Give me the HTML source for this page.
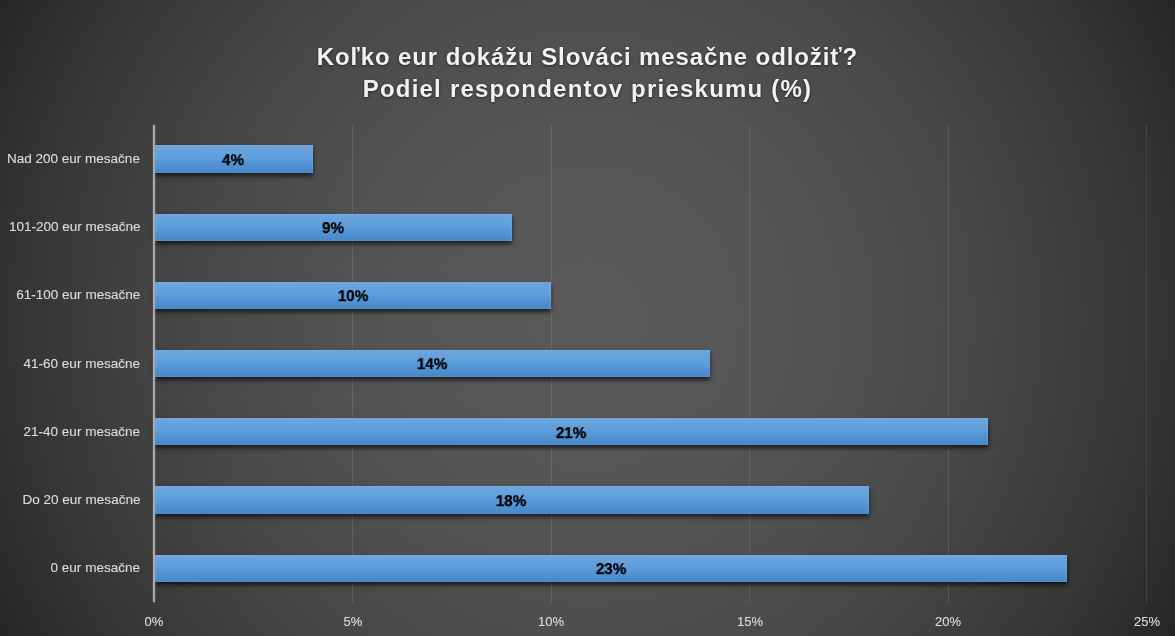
<!DOCTYPE html>
<html><head><meta charset="utf-8"><title>Chart</title>
<style>
html,body{margin:0;padding:0;}
html{background:#262626;}
body{width:1175px;height:636px;overflow:hidden;position:relative;background:#3f3f3f;font-family:"Liberation Sans",sans-serif;}
#c{position:absolute;left:0;top:0;width:1175px;height:636px;background:radial-gradient(circle 668.0px at 587.5px 318px, rgb(89,89,89) 0.00%, rgb(89,89,89) 4.17%, rgb(89,89,89) 8.33%, rgb(88,88,88) 12.50%, rgb(88,88,88) 16.67%, rgb(87,87,87) 20.83%, rgb(86,86,86) 25.00%, rgb(85,85,85) 29.17%, rgb(83,83,83) 33.33%, rgb(82,82,82) 37.50%, rgb(80,80,80) 41.67%, rgb(78,78,78) 45.83%, rgb(76,76,76) 50.00%, rgb(74,74,74) 54.17%, rgb(72,72,72) 58.33%, rgb(69,69,69) 62.50%, rgb(66,66,66) 66.67%, rgb(63,63,63) 70.83%, rgb(60,60,60) 75.00%, rgb(57,57,57) 79.17%, rgb(54,54,54) 83.33%, rgb(50,50,50) 87.50%, rgb(46,46,46) 91.67%, rgb(42,42,42) 95.83%, rgb(38,38,38) 100.00%);overflow:hidden;}
.g{position:absolute;top:124.5px;height:478px;width:1px;background:rgba(255,255,255,0.10);}
.ax{position:absolute;left:153px;top:125px;width:2px;height:477px;background:#a8a8a8;box-shadow:0 0 0 0.5px rgba(168,168,168,0.35);}
.bar{position:absolute;left:155px;height:28px;background:linear-gradient(to bottom,#72aade 0%,#6ba5dc 8%,#5c9ddb 48%,#4e90d0 78%,#4688c8 96%,#4f94d6 100%);box-shadow:0 2.5px 4.5px rgba(8,3,0,0.7), inset -1px 0 0 rgba(110,175,245,0.35);}
.cl,.dl,.xl,.t{will-change:transform;}
.cl,.xl{-webkit-text-stroke:0.12px #dcdcdc;color:#dcdcdc !important;}
.cl{position:absolute;right:1034.7px;white-space:nowrap;color:#d9d9d9;font-size:13px;line-height:16px;transform-origin:100% 50%;transform:scaleX(1.04);}
.dl{position:absolute;white-space:nowrap;color:#000;font-weight:bold;font-size:15.6px;line-height:18px;width:60px;text-align:center;transform:scaleX(0.975);text-rendering:geometricPrecision;-webkit-text-stroke:0.3px #000;}
.xl{position:absolute;white-space:nowrap;color:#d9d9d9;font-size:13px;line-height:16px;width:60px;text-align:center;top:613.6px;}
.t{position:absolute;left:0;width:1175px;text-align:center;color:#f2f2f2;font-weight:bold;font-size:24px;line-height:30px;white-space:nowrap;text-shadow:0 1px 3px rgba(0,0,0,0.55);}
.t span{display:inline-block;transform-origin:50% 50%;}
</style></head><body><div id="c">

<div class="g" style="left:352.0px"></div>
<div class="g" style="left:550.5px"></div>
<div class="g" style="left:749.0px"></div>
<div class="g" style="left:947.5px"></div>
<div class="g" style="left:1146.0px"></div>
<div class="bar" style="top:145px;height:28px;width:158px"></div>
<div class="bar" style="top:214px;height:27px;width:357px"></div>
<div class="bar" style="top:282px;height:27px;width:396px"></div>
<div class="bar" style="top:350px;height:27px;width:555px"></div>
<div class="bar" style="top:418px;height:27px;width:833px"></div>
<div class="bar" style="top:486px;height:28px;width:714px"></div>
<div class="bar" style="top:555px;height:27px;width:912px"></div>
<div class="ax"></div>
<div class="cl" id="cl0" style="top:150.7px">Nad 200 eur mesačne</div>
<div class="dl" style="left:203.4px;top:152px">4%</div>
<div class="cl" id="cl1" style="top:218.8px">101-200 eur mesačne</div>
<div class="dl" style="left:302.6px;top:220px">9%</div>
<div class="cl" id="cl2" style="top:287.0px">61-100 eur mesačne</div>
<div class="dl" style="left:322.5px;top:288px">10%</div>
<div class="cl" id="cl3" style="top:356.1px">41-60 eur mesačne</div>
<div class="dl" style="left:401.9px;top:356px">14%</div>
<div class="cl" id="cl4" style="top:424.2px">21-40 eur mesačne</div>
<div class="dl" style="left:540.9px;top:425px">21%</div>
<div class="cl" id="cl5" style="top:492.4px">Do 20 eur mesačne</div>
<div class="dl" style="left:481.3px;top:493px">18%</div>
<div class="cl" id="cl6" style="top:559.5px">0 eur mesačne</div>
<div class="dl" style="left:580.5px;top:561px">23%</div>
<div class="xl" style="left:124.0px">0%</div>
<div class="xl" style="left:322.5px">5%</div>
<div class="xl" style="left:521.0px">10%</div>
<div class="xl" style="left:719.5px">15%</div>
<div class="xl" style="left:918.0px">20%</div>
<div class="xl" style="left:1116.5px">25%</div>
<div class="t" style="top:42.3px;letter-spacing:0.89px"><span id="t1">Koľko eur dokážu Slováci mesačne odložiť?</span></div>
<div class="t" style="top:74.4px;letter-spacing:1.22px"><span id="t2">Podiel respondentov prieskumu (%)</span></div>
</div></body></html>
